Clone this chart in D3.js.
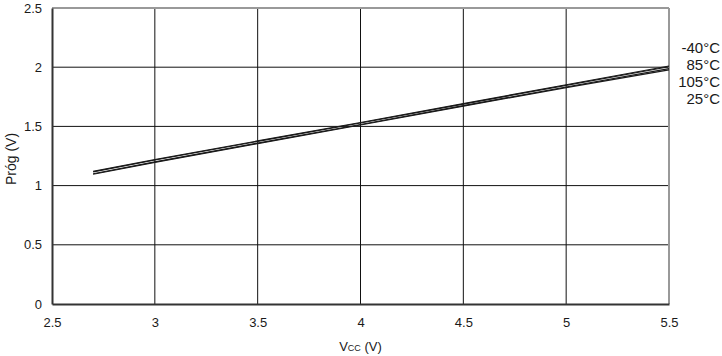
<!DOCTYPE html>
<html>
<head>
<meta charset="utf-8">
<script src="https://cdn.jsdelivr.net/npm/d3@7"></script>
<style>
  body { margin: 0; background: #fff; }
  text { font-family: "Liberation Sans", Arial, sans-serif; fill: #1a1a1a; }
</style>
</head>
<body>
<svg width="722" height="356"></svg>
<script>
var vcc = [2.7, 3, 3.5, 4, 4.5, 5, 5.5];
var seriesNames = ["-40°C", "85°C", "105°C", "25°C"];
var thrM40 = [1.12, 1.22, 1.377, 1.533, 1.692, 1.852, 2.01];
var thr85 = [1.116, 1.216, 1.373, 1.529, 1.688, 1.847, 2.004];
var thr105 = [1.10, 1.20, 1.359, 1.516, 1.675, 1.833, 1.988];
var thr25 = [1.096, 1.196, 1.355, 1.512, 1.671, 1.828, 1.978];
var xTicks = [2.5, 3, 3.5, 4, 4.5, 5, 5.5];
var yTicks = [0, 0.5, 1, 1.5, 2, 2.5];

var svg = d3.select("svg"),
    margin = {top: 8, right: 53, bottom: 52, left: 52},
    width = 722 - margin.left - margin.right,
    height = 356 - margin.top - margin.bottom,
    g = svg.append("g").attr("transform", "translate(" + margin.left + "," + margin.top + ")");

var x = d3.scaleLinear().domain([2.5, 5.5]).range([0, width]);
var y = d3.scaleLinear().domain([0, 2.5]).range([height, 0]);

// grid
g.append("g")
    .selectAll("line")
    .data(xTicks.slice(1, -1))
  .enter().append("line")
    .attr("x1", function(d) { return x(d); })
    .attr("x2", function(d) { return x(d); })
    .attr("y1", 0).attr("y2", height)
    .attr("stroke", "#111").attr("stroke-width", 1);

g.append("g")
    .selectAll("line")
    .data(yTicks.slice(1, -1))
  .enter().append("line")
    .attr("x1", 0).attr("x2", width)
    .attr("y1", function(d) { return y(d); })
    .attr("y2", function(d) { return y(d); })
    .attr("stroke", "#111").attr("stroke-width", 1);

// frame: top/right gray, bottom/left dark
g.append("line").attr("x1", 0).attr("x2", width).attr("y1", 0).attr("y2", 0)
    .attr("stroke", "#999").attr("stroke-width", 2);
g.append("line").attr("x1", width).attr("x2", width).attr("y1", 0).attr("y2", height)
    .attr("stroke", "#999").attr("stroke-width", 2);

var xAxis = g.append("g")
    .attr("transform", "translate(0," + height + ")")
    .call(d3.axisBottom(x).tickValues(xTicks).tickSize(0).tickPadding(14).tickFormat(d3.format("")));
xAxis.select(".domain").attr("stroke", "#333").attr("stroke-width", 2);
xAxis.selectAll("text").style("font-size", "13px").attr("fill", "#1a1a1a");

var yAxis = g.append("g")
    .call(d3.axisLeft(y).tickValues(yTicks).tickSize(0).tickPadding(10).tickFormat(d3.format("")));
yAxis.select(".domain").attr("stroke", "#333").attr("stroke-width", 2);
yAxis.selectAll("text").style("font-size", "13px").attr("fill", "#1a1a1a");

// lines
var line = d3.line()
    .x(function(d, i) { return x(vcc[i]); })
    .y(function(d) { return y(d); });

[thrM40, thr85, thr105, thr25].forEach(function(s) {
  g.append("path")
      .datum(s)
      .attr("d", line)
      .attr("fill", "none")
      .attr("stroke", "#1a1a1a")
      .attr("stroke-width", 1.2);
});

// labels on right
seriesNames.forEach(function(name, i) {
  svg.append("text")
      .attr("x", 720)
      .attr("y", 53 + i * 17)
      .attr("text-anchor", "end")
      .style("font-size", "15px")
      .text(name);
});

// axis titles
svg.append("text")
    .attr("transform", "translate(16," + (margin.top + height / 2 + 3) + ") rotate(-90)")
    .attr("text-anchor", "middle")
    .style("font-size", "14px")
    .text("Próg (V)");

var xt = svg.append("text")
    .attr("x", margin.left + x(4))
    .attr("y", 351)
    .attr("text-anchor", "middle")
    .style("font-size", "13px");
xt.append("tspan").text("V");
xt.append("tspan").style("font-size", "9px").text("CC");
xt.append("tspan").text(" (V)");
</script>
</body>
</html>
